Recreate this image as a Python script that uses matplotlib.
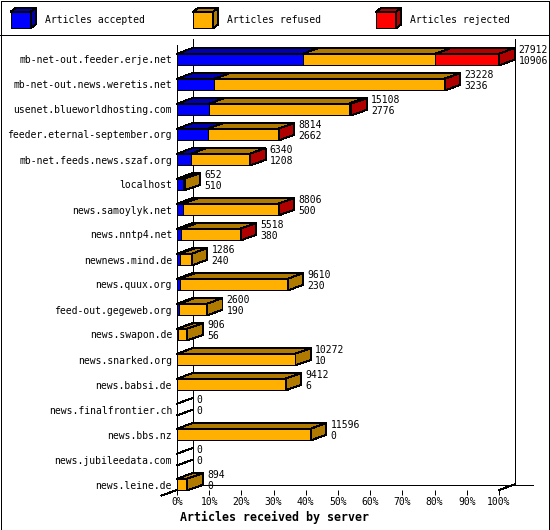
import numpy as np
import matplotlib
matplotlib.use("Agg")
import matplotlib.pyplot as plt
from matplotlib.patches import Polygon, Rectangle

# data: total / accepted are printed, rejected estimated
hosts = ["mb-net-out.feeder.erje.net", "mb-net-out.news.weretis.net",
         "usenet.blueworldhosting.com", "feeder.eternal-september.org",
         "mb-net.feeds.news.szaf.org", "localhost", "news.samoylyk.net",
         "news.nntp4.net", "newnews.mind.de", "news.quux.org",
         "feed-out.gegeweb.org", "news.swapon.de", "news.snarked.org",
         "news.babsi.de", "news.finalfrontier.ch", "news.bbs.nz",
         "news.jubileedata.com", "news.leine.de"]
totals = [27912, 23228, 15108, 8814, 6340, 652, 8806, 5518, 1286, 9610,
          2600, 906, 10272, 9412, 0, 11596, 0, 894]
accepted = [10906, 3236, 2776, 2662, 1208, 510, 500, 380, 240, 230,
            190, 56, 10, 6, 0, 0, 0, 0]
rejected = [5516, 60, 230, 30, 20, 0, 30, 20, 0, 0,
            0, 0, 0, 0, 0, 0, 0, 0]
refused = [t - a - r for t, a, r in zip(totals, accepted, rejected)]

series = ["Articles accepted", "Articles refused", "Articles rejected"]
fronts = ["#0000ff", "#ffb000", "#ff0000"]
shades = ["#0000b0", "#b07a00", "#b00000"]

W, H = 550, 530
plt.rcParams["patch.antialiased"] = False
plt.rcParams["lines.antialiased"] = False
mono = "DejaVu Sans Mono"
fs = 7.05

fig = plt.figure(figsize=(W / 100, H / 100), dpi=100)


def px(x, y):
    # pixel position (from top-left) -> figure fraction
    return x / W, 1 - y / H


# plot area: front plane from x=177..499, y=45..490
ax = fig.add_axes([177 / W, 1 - 490 / H, 322 / W, 445 / H])
pitch = 25.0
ytop = (45 - 59.5) / pitch
ybot = (490 - 59.5) / pitch
ax.set_xlim(0, 100)
ax.set_ylim(ybot, ytop)
for s in ax.spines.values():
    s.set_visible(False)

dx = 15.5 / 3.22        # depth in percent units
dy = -5.5 / pitch       # depth in category units
bh = 11.7 / pitch
lw = 0.72
scale = 100.0 / max(totals)

for i in range(len(hosts)):
    vals = [accepted[i], refused[i], rejected[i]]
    top, bot = i - bh / 2, i + bh / 2
    left = 0.0
    last = None
    for k, v in enumerate(vals):
        if v <= 0:
            continue
        w = v * scale
        ax.barh(i, w, left=left, height=bh, color=fronts[k],
                edgecolor="black", linewidth=0.7, clip_on=False, zorder=3)
        ax.add_patch(Polygon([(left, top), (left + w, top),
                              (left + w + dx, top + dy), (left + dx, top + dy)],
                             closed=True, facecolor=shades[k],
                             edgecolor="black", linewidth=0.7,
                             clip_on=False, zorder=3))
        left += w
        last = k
    if last is not None:
        ax.add_patch(Polygon([(left, top), (left + dx, top + dy),
                              (left + dx, bot + dy), (left, bot)],
                             closed=True, facecolor=shades[last],
                             edgecolor="black", linewidth=0.7,
                             clip_on=False, zorder=3))
    else:
        for yy in (top, bot):
            ax.plot([0, dx], [yy, yy + dy], color="black", lw=lw,
                    clip_on=False, zorder=3)
    tx = totals[i] * scale + dx + 1.3
    ax.text(tx, i - 0.38, str(totals[i]), fontsize=fs, family=mono,
            va="center", ha="left", zorder=4)
    ax.text(tx, i + 0.06, str(accepted[i]), fontsize=fs, family=mono,
            va="center", ha="left", zorder=4)

# frame of the 3d box
floor = ybot + dy
frame = dict(color="black", lw=lw, clip_on=False, zorder=2)
ax.plot([0, 0], [ytop, ybot], **frame)
ax.plot([dx, dx], [ytop + dy, floor], **frame)
ax.plot([100 + dx, 100 + dx], [ytop + dy, floor], **frame)
ax.plot([dx, 100 + dx + 5.9], [floor, floor], **frame)
ax.plot([-dx, 0], [ybot - dy, ybot], **frame)
ax.plot([100, 100 + dx], [ybot, floor], **frame)

ax.set_xticks(np.arange(0, 101, 10))
ax.set_xticklabels([f"{v}%" for v in range(0, 101, 10)], family=mono, fontsize=fs)
ax.set_yticks(range(len(hosts)))
ax.set_yticklabels(hosts, family=mono, fontsize=fs)
ax.tick_params(axis="x", length=3.6, width=lw, pad=1.5, direction="out")
ax.tick_params(axis="y", length=0, pad=3.6)

fig.text(*px(180, 517), "Articles received by server", family=mono,
         fontsize=8.4, fontweight="bold", ha="left", va="center")

# legend strip
for k, x0 in enumerate([10.7, 193, 376]):
    front = [px(x0, 11.7), px(x0 + 20, 11.7), px(x0 + 20, 28.3), px(x0, 28.3)]
    topf = [px(x0, 11.7), px(x0 + 20, 11.7), px(x0 + 25, 8), px(x0 + 5, 8)]
    side = [px(x0 + 20, 11.7), px(x0 + 25, 8), px(x0 + 25, 24.6), px(x0 + 20, 28.3)]
    for pts, c in ((front, fronts[k]), (topf, shades[k]), (side, shades[k])):
        fig.patches.append(Polygon(pts, closed=True, facecolor=c,
                                   edgecolor="black", linewidth=0.7,
                                   transform=fig.transFigure, figure=fig))
    fig.text(*px(x0 + 34, 20), series[k], family=mono, fontsize=fs,
             ha="left", va="center")

fig.add_artist(plt.Line2D([0, 1], [1 - 34.5 / H] * 2, color="black", lw=lw,
                          transform=fig.transFigure))
fig.patches.append(Rectangle((0.5 / W, 0.5 / H), 1 - 1.5 / W, 1 - 1.5 / H,
                             fill=False, edgecolor="black", linewidth=0.7,
                             transform=fig.transFigure, figure=fig))

fig.savefig("out.png", dpi=100)
